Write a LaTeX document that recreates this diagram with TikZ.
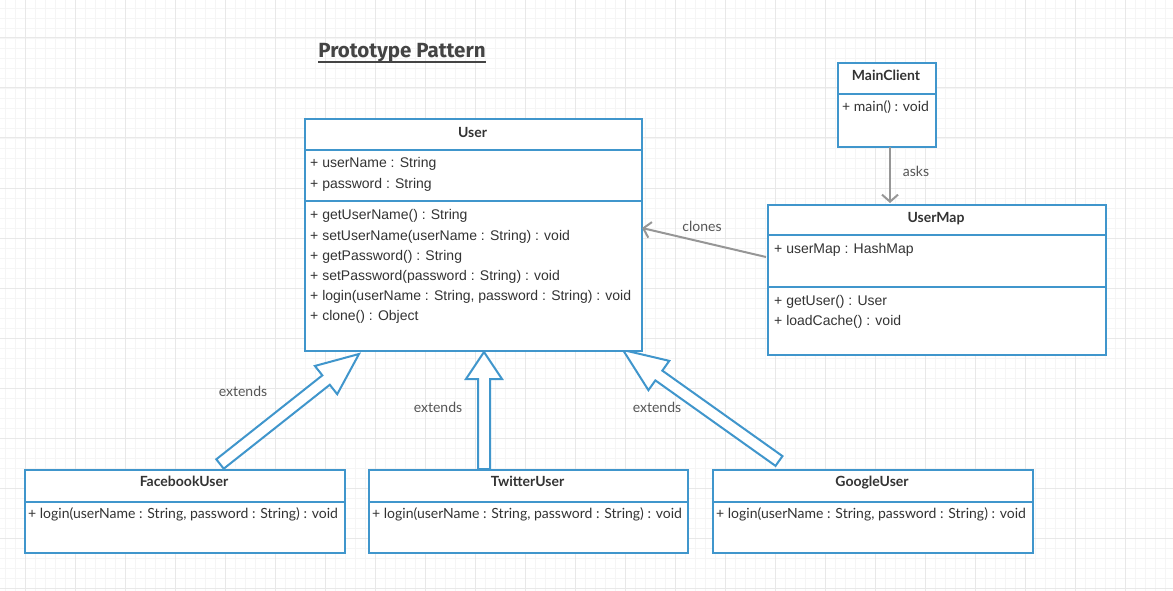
\documentclass[tikz,border=0pt]{standalone}
\usepackage{fontspec}
\setmainfont{Liberation Sans}
\newfontfamily\lato{Lato}
\newfontfamily\titlefont{Fira Sans}
\usetikzlibrary{arrows.meta}
\definecolor{umlblue}{RGB}{64,150,204}
\definecolor{txt}{RGB}{51,51,51}
\definecolor{titlecol}{RGB}{68,68,68}
\definecolor{conncol}{RGB}{150,150,150}
\definecolor{lblcol}{RGB}{85,85,85}
\definecolor{gridminor}{RGB}{245,245,245}
\definecolor{gridmajor}{RGB}{232,232,232}
\tikzset{
  box/.style={draw=umlblue, line width=2pt, fill=white, inner sep=0pt},
  divider/.style={draw=umlblue, line width=2pt},
  hdr/.style={font=\lato\bfseries\fontsize{14}{16}\selectfont, text=txt, inner sep=0pt, text height=12pt, text depth=1pt},
  mem/.style={font=\fontsize{14}{16}\selectfont, text=txt, anchor=west, inner sep=0pt, text height=12pt, text depth=1pt},
  lmem/.style={font=\lato\fontsize{14}{16}\selectfont, text=txt, anchor=west, inner sep=0pt, text height=12pt, text depth=1pt},
  lbl/.style={font=\lato\fontsize{14}{16}\selectfont, text=lblcol, inner sep=0pt, text height=12pt, text depth=1pt},
  assoc/.style={draw=conncol, line width=2pt, -{Straight Barb[length=7pt,width=16pt]}},
  fat/.style={draw=umlblue, line width=2pt, fill=white, line join=miter},
}
\newcommand\fatarrow[3]{%
  \pgfpointdiff{\pgfpointanchor{#2}{center}}{\pgfpointanchor{#3}{center}}%
  \pgfgetlastxy{\fdx}{\fdy}%
  \pgfmathsetmacro\fang{atan2(\fdy,\fdx)}%
  \pgfmathsetmacro\flen{veclen(\fdx,\fdy)}%
  \pgfmathsetmacro\fbase{\flen-#1}%
  \draw[fat, shift={(#2)}, rotate=\fang] (0pt,-6pt) -- (\fbase pt,-6pt) -- (\fbase pt,-18pt) -- (\flen pt,0pt) -- (\fbase pt,18pt) -- (\fbase pt,6pt) -- (0pt,6pt) -- cycle;
}
\begin{document}
\begin{tikzpicture}[x=1pt, y=-1pt]
\useasboundingbox (0,0) rectangle (1173,591);
\fill[white] (0,0) rectangle (1173,591);
% grid
\foreach \x in {5,15,...,1170} \draw[gridminor, line width=0.8pt] (\x,0) -- (\x,591);
\foreach \y in {8,18,...,590} \draw[gridminor, line width=0.8pt] (0,\y) -- (1173,\y);
\foreach \x in {25,75,...,1170} \draw[gridmajor, line width=1pt] (\x,0) -- (\x,591);
\foreach \y in {38,88,...,590} \draw[gridmajor, line width=1pt] (0,\y) -- (1173,\y);

% title
\node[font=\titlefont\bfseries\fontsize{20.5}{24}\selectfont, text=titlecol, inner sep=0pt, anchor=base] (title) at (402,58) {Prototype Pattern};
\draw[titlecol, line width=2pt] ([yshift=-4pt]title.base west) -- ([yshift=-4pt]title.base east);

% fat inheritance arrows
\coordinate (fbT) at (220,464);
\coordinate (fbH) at (359,354);
\coordinate (twT) at (484,469);
\coordinate (twH) at (484,352);
\coordinate (ggT) at (779,461);
\coordinate (ggH) at (623,350);
\fatarrow{42}{fbT}{fbH}
\fatarrow{27}{twT}{twH}
\fatarrow{44}{ggT}{ggH}

% User
\node[box, anchor=north west, minimum width=337pt, minimum height=232pt] (user) at (304,118) {};
\draw[divider] (304,150) -- (641,150);
\draw[divider] (304,201) -- (641,201);
\node[hdr] (userH) at (472.5,132) {User};
\node[mem] (u1) at (310,162) {+ userName : String};
\node[mem] (u2) at (310,183) {+ password : String};
\node[mem] (u3) at (310,214) {+ getUserName() : String};
\node[mem] (u4) at (310,235) {+ setUserName(userName : String) : void};
\node[mem] (u5) at (310,255) {+ getPassword() : String};
\node[mem] (u6) at (310,275) {+ setPassword(password : String) : void};
\node[mem] (u7) at (310,295) {+ login(userName : String, password : String) : void};
\node[mem] (u8) at (310,315) {+ clone() : Object};

% MainClient
\node[box, anchor=north west, minimum width=98pt, minimum height=84pt] (mc) at (837,62) {};
\draw[divider] (837,94) -- (935,94);
\node[hdr] (mcH) at (886,75) {MainClient};
\node[lmem] (mc1) at (842,106) {+ main() : void};

% UserMap
\node[box, anchor=north west, minimum width=338pt, minimum height=150pt] (um) at (767,204) {};
\draw[divider] (767,235) -- (1105,235);
\draw[divider] (767,287) -- (1105,287);
\node[hdr] (umH) at (936,217) {UserMap};
\node[mem] (um1) at (774,248) {+ userMap : HashMap};
\node[mem] (um2) at (774,300) {+ getUser() : User};
\node[mem] (um3) at (774,320) {+ loadCache() : void};

% bottom classes
\node[box, anchor=north west, minimum width=320pt, minimum height=83pt] (fb) at (24,469) {};
\draw[divider] (24,502) -- (344,502);
\node[hdr] (fbH2) at (184,481) {FacebookUser};
\node[lmem] (fb1) at (28,513) {+ login(userName : String, password : String) : void};

\node[box, anchor=north west, minimum width=319pt, minimum height=83pt] (tw) at (368,469) {};
\draw[divider] (368,502) -- (687,502);
\node[hdr] (twH2) at (527.5,481) {TwitterUser};
\node[lmem] (tw1) at (372,513) {+ login(userName : String, password : String) : void};

\node[box, anchor=north west, minimum width=320pt, minimum height=83pt] (gg) at (712,469) {};
\draw[divider] (712,502) -- (1032,502);
\node[hdr] (ggH2) at (872,481) {GoogleUser};
\node[lmem] (gg1) at (716,513) {+ login(userName : String, password : String) : void};

% associations
\coordinate (a1) at (890,147);
\coordinate (a2) at (890,203);
\draw[assoc] (a1) -- (a2);
\coordinate (c1) at (766,257);
\coordinate (c2) at (642,228);
\draw[assoc] (c1) -- (c2);

% labels
\node[lbl] (lasks) at (916,171) {asks};
\node[lbl] (lclones) at (702,226) {clones};
\node[lbl] (le1) at (243,391) {extends};
\node[lbl] (le2) at (438,407) {extends};
\node[lbl] (le3) at (657,407) {extends};
\end{tikzpicture}
\end{document}
